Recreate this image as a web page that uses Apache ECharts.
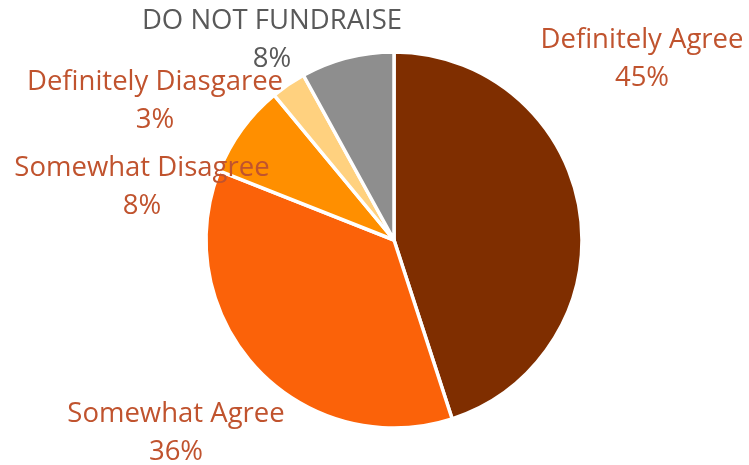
<!DOCTYPE html>
<html>
<head>
<meta charset="utf-8">
<script src="https://cdn.jsdelivr.net/npm/echarts@6/dist/echarts.min.js"></script>
<style>
  html, body { margin: 0; padding: 0; background: #ffffff; }
  #chart { width: 749px; height: 465px; }
</style>
</head>
<body>
<div id="chart"></div>
<script>
// Survey responses, clockwise from 12 o'clock
const categories = [
  'Definitely Agree',
  'Somewhat Agree',
  'Somewhat Disagree',
  'Definitely Diasgaree',
  'DO NOT FUNDRAISE'
];
const shares = [45, 36, 8, 3, 8];

const sliceColors = ['#7f2e00', '#fb6209', '#ff8f00', '#ffd17f', '#8e8e8e'];
const labelColors = ['#c0532e', '#c0532e', '#c0532e', '#c0532e', '#595959'];

// Label block centres (layout only)
const labelSpots = [
  [642, 59],
  [176, 433],
  [142, 187],
  [155, 101],
  [272, 40]
];

const chart = echarts.init(document.getElementById('chart'));

chart.setOption({
  animation: false,
  series: [{
    type: 'pie',
    center: [394, 240],
    radius: 188,
    startAngle: 90,
    clockwise: true,
    data: categories.map((name, i) => ({
      name,
      value: shares[i],
      itemStyle: { color: sliceColors[i] },
      label: { color: labelColors[i] }
    })),
    itemStyle: { borderColor: '#ffffff', borderWidth: 3.5 },
    label: {
      show: true,
      position: 'outside',
      formatter: '{b}\n{d}%',
      fontFamily: 'Open Sans',
      fontSize: 27.5,
      lineHeight: 38,
      align: 'center',
      overflow: 'none',
      width: 400
    },
    labelLine: { show: false },
    labelLayout: function (params) {
      const p = labelSpots[params.dataIndex];
      return { x: p[0], y: p[1], align: 'center', verticalAlign: 'middle', hideOverlap: false };
    }
  }]
});
</script>
</body>
</html>
